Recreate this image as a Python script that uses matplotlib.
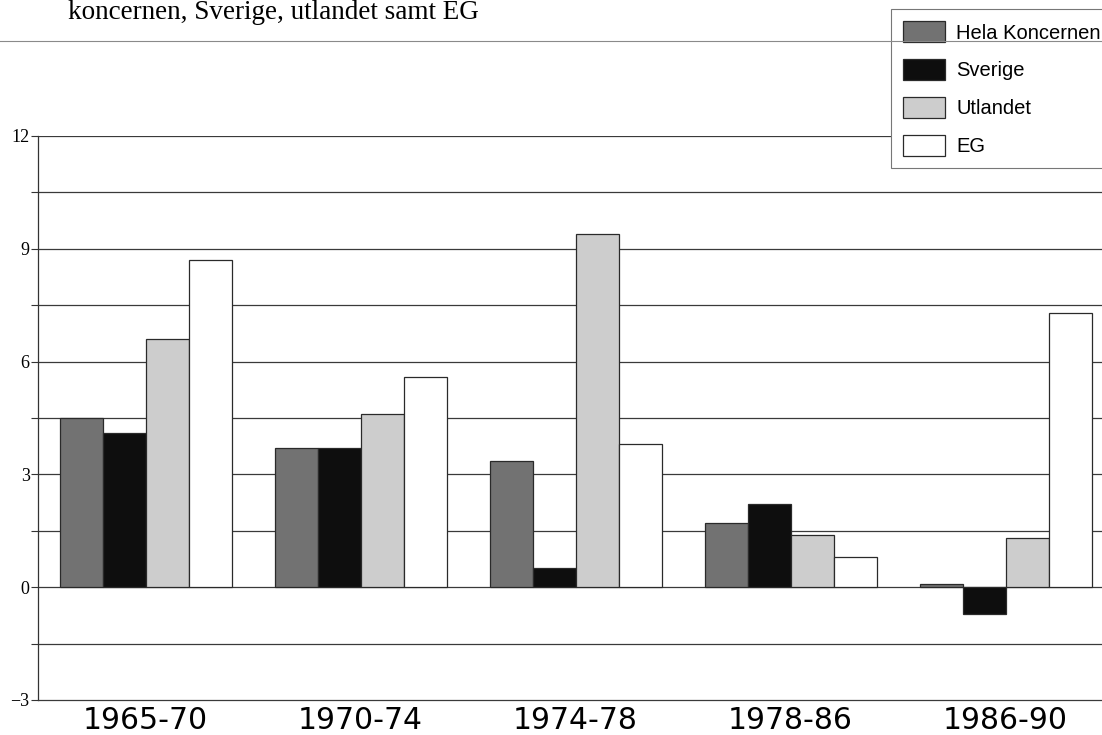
import numpy as np
import matplotlib.pyplot as plt
from matplotlib.ticker import MultipleLocator

# data
periods = ['1965-70', '1970-74', '1974-78', '1978-86', '1986-90']
hela = [4.5, 3.7, 3.35, 1.7, 0.08]
sverige = [4.1, 3.7, 0.5, 2.2, -0.72]
utlandet = [6.6, 4.6, 9.4, 1.4, 1.3]
eg = [8.7, 5.6, 3.8, 0.8, 7.3]

series_names = ['Hela Koncernen', 'Sverige', 'Utlandet', 'EG']
fills = ['#727272', '#0e0e0e', '#cdcdcd', '#ffffff']

fig = plt.figure(figsize=(11.02, 7.35), dpi=100)
ax = fig.add_axes([38 / 1102, 35 / 735, 1075 / 1102, 564 / 735])

x = np.arange(len(periods))
w = 0.2
for k, (vals, name, col) in enumerate(zip([hela, sverige, utlandet, eg], series_names, fills)):
    ax.bar(x + (k - 1.5) * w, vals, width=w, color=col, edgecolor='#2a2a2a',
           linewidth=0.9, label=name, zorder=3)

ax.set_xlim(-0.5, 4.5)
ax.set_ylim(-3, 12)
ax.yaxis.set_minor_locator(MultipleLocator(1.5))
ax.set_yticks([-3, 0, 3, 6, 9, 12])
ax.set_yticklabels(['\u22123', '0', '3', '6', '9', '12'], family='Liberation Serif', fontsize=13)
ax.tick_params(axis='y', which='both', direction='out', length=5, width=0.8,
               color='#333333', pad=1)

for yv in np.arange(-1.5, 12.01, 1.5):
    ax.axhline(yv, color='#3a3a3a', linewidth=0.9, zorder=1)

ax.set_xticks(x)
ax.set_xticklabels(periods, family='DejaVu Sans', fontsize=21.5)
ax.tick_params(axis='x', length=0, pad=4)

for side in ['top', 'right']:
    ax.spines[side].set_visible(False)
ax.spines['left'].set_color('#333333')
ax.spines['bottom'].set_color('#3a3a3a')
ax.spines['left'].set_linewidth(0.9)
ax.spines['bottom'].set_linewidth(0.9)

leg = ax.legend(loc='upper left', bbox_to_anchor=(891 / 1102, 1 - 9 / 735),
                bbox_transform=fig.transFigure,
                prop={'family': 'Liberation Sans', 'size': 14.5},
                handlelength=2.1, handleheight=1.25, labelspacing=0.82,
                handletextpad=0.55, borderpad=0.6, borderaxespad=0,
                fancybox=False, framealpha=1, edgecolor='#777777')
leg.get_frame().set_linewidth(0.8)

# title fragment and page rule at the top
fig.text(68 / 1102, 1 - 19 / 735, 'koncernen, Sverige, utlandet samt EG',
         family='Liberation Serif', fontsize=19.5, va='baseline', ha='left')
fig.add_artist(plt.Line2D([0, 1], [1 - 41 / 735, 1 - 41 / 735],
                          transform=fig.transFigure, color='#8a8a8a', linewidth=0.8))

fig.savefig('out.png', dpi=100)
